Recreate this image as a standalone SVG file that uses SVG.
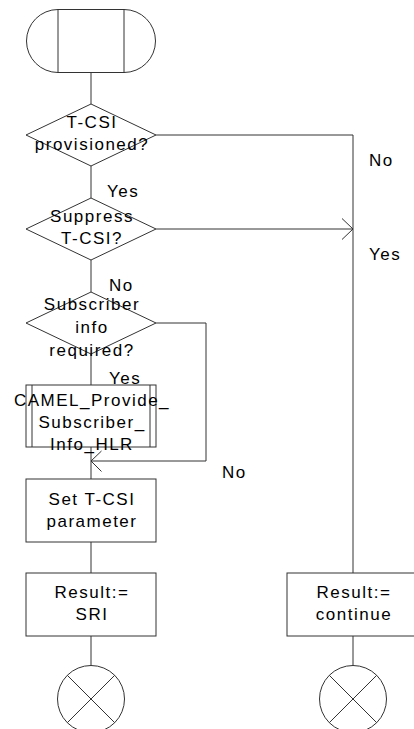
<svg xmlns="http://www.w3.org/2000/svg" width="414" height="729" viewBox="0 0 414 729">
<style>
.s{fill:#fff;stroke:#333;stroke-width:1}
.c{fill:none;stroke:#333;stroke-width:1}
text{font-family:"Liberation Sans",Arial,sans-serif;font-size:17px;letter-spacing:1.5px;fill:#000}
.m{text-anchor:middle}
</style>
<rect width="414" height="729" fill="#fff"/>
<g id="connectors">
<path class="c" d="M91,72.5V104M91,166V198M91,260V292M91,354V385M91,447V479M91,542V573M91,636V665.5"/>
<path class="c" d="M156,135H353V573M156,229H353M342,218.5L353,229L342,239.5"/>
<path class="c" d="M156,323H206V461H91M101.5,451L91,461L101.5,471.5"/>
<path class="c" d="M353,636V665.5"/>
<text x="107" y="197">Yes</text>
<text x="109" y="291">No</text>
<text x="109" y="384">Yes</text>
<text x="369" y="166">No</text>
<text x="369" y="260">Yes</text>
<text x="222" y="478">No</text>
</g>
<g id="start">
<path class="s" d="M58,9.5H124A31.5,31.5 0 0 1 124,72.5H58A31.5,31.5 0 0 1 58,9.5Z"/>
<path class="c" d="M58,9.5V72.5M124,9.5V72.5"/>
</g>
<g id="d1">
<path class="s" d="M91,104L156,135L91,166L26,135Z"/>
<text class="m" x="92" y="127.5">T-CSI</text>
<text class="m" x="92" y="149.5">provisioned?</text>
</g>
<g id="d2">
<path class="s" d="M91,198L156,229L91,260L26,229Z"/>
<text class="m" x="92" y="221.5">Suppress</text>
<text class="m" x="92" y="243.5">T-CSI?</text>
</g>
<g id="d3">
<path class="s" d="M91,292L156,323L91,354L26,323Z"/>
<text class="m" x="92" y="310">Subscriber</text>
<text class="m" x="92" y="333">info</text>
<text class="m" x="92" y="356">required?</text>
</g>
<g id="proc">
<rect class="s" x="26" y="385" width="130" height="62"/>
<path class="c" d="M32,385V447M150,385V447"/>
<text class="m" x="92" y="405.5">CAMEL_Provide_</text>
<text class="m" x="92" y="428">Subscriber_</text>
<text class="m" x="92" y="450">Info_HLR</text>
</g>
<g id="set">
<rect class="s" x="26" y="479" width="130" height="63"/>
<text class="m" x="92" y="505">Set T-CSI</text>
<text class="m" x="92" y="527">parameter</text>
</g>
<g id="res1">
<rect class="s" x="26" y="573" width="130" height="63"/>
<text class="m" x="92" y="597.5">Result:=</text>
<text class="m" x="92" y="620">SRI</text>
</g>
<g id="res2">
<rect class="s" x="287" y="573" width="132" height="63"/>
<text class="m" x="354" y="597.5">Result:=</text>
<text class="m" x="354" y="620">continue</text>
</g>
<g id="stop1">
<circle class="s" cx="91" cy="699" r="33.5"/>
<path class="c" d="M67.3,675.3L114.7,722.7M114.7,675.3L67.3,722.7"/>
</g>
<g id="stop2">
<circle class="s" cx="353" cy="699" r="33.5"/>
<path class="c" d="M329.3,675.3L376.7,722.7M376.7,675.3L329.3,722.7"/>
</g>
</svg>
